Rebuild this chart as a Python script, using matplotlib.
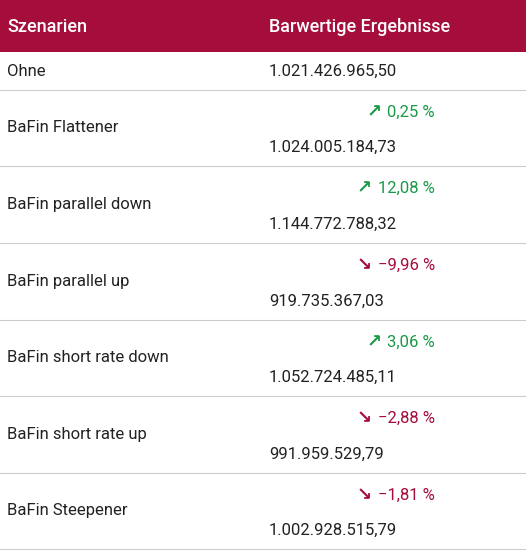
import matplotlib
matplotlib.use("Agg")
import matplotlib.pyplot as plt

header = ["Szenarien", "Barwertige Ergebnisse"]
scenarios = ["Ohne", "BaFin Flattener", "BaFin parallel down", "BaFin parallel up",
             "BaFin short rate down", "BaFin short rate up", "BaFin Steepener"]
values = ["1.021.426.965,50", "1.024.005.184,73", "1.144.772.788,32", "919.735.367,03",
          "1.052.724.485,11", "991.959.529,79", "1.002.928.515,79"]
changes = [None, 0.25, 12.08, -9.96, 3.06, -2.88, -1.81]

RED = "#a50d3b"
GREEN = "#1a9a48"
TXT = "#222222"

fig = plt.figure(figsize=(5.26, 5.5), dpi=100)
ax = fig.add_axes([0, 0, 1, 1])
ax.set_xlim(0, 526)
ax.set_ylim(550, 0)
ax.axis("off")
font = ["Roboto", "DejaVu Sans"]

ax.add_patch(plt.Rectangle((0, 0), 526, 52, color=RED, lw=0))
ax.text(7, 27, header[0], color="white", fontsize=13, fontweight="medium", va="center", family=font)
ax.text(269, 27, header[1], color="white", fontsize=13, fontweight="medium", va="center", family=font)

bounds = [52, 90, 166, 243, 320, 396, 473, 549]
for i, (s, v, c) in enumerate(zip(scenarios, values, changes)):
    top, bot = bounds[i], bounds[i + 1]
    mid = (top + bot) / 2
    ax.text(7, mid, s, color=TXT, fontsize=12, va="center", family=font)
    if c is None:
        ax.text(269, mid, v, color=TXT, fontsize=12, va="center", family=font)
    else:
        col = GREEN if c > 0 else RED
        arrow = "\u2197" if c > 0 else "\u2198"
        num = f"{abs(c):.2f}".replace(".", ",")
        lbl = f"{num} %" if c > 0 else f"\u2212{num} %"
        t = ax.text(435, top + 22, lbl, color=col, fontsize=12, va="center", ha="right",
                    family=font)
        fig.canvas.draw() if i == 1 else None
        w = t.get_window_extent(renderer=fig.canvas.get_renderer()).width
        ax.text(435 - w - 6, top + 22, arrow, color=col, fontsize=13, va="center",
                ha="right", fontweight="bold", family=["DejaVu Sans"])
        ax.text(269, bot - 19, v, color=TXT, fontsize=12, va="center", family=font)
    ax.plot([0, 526], [bot, bot], color="#cccccc", lw=0.8)

fig.savefig("out.png", dpi=100, facecolor="white")
